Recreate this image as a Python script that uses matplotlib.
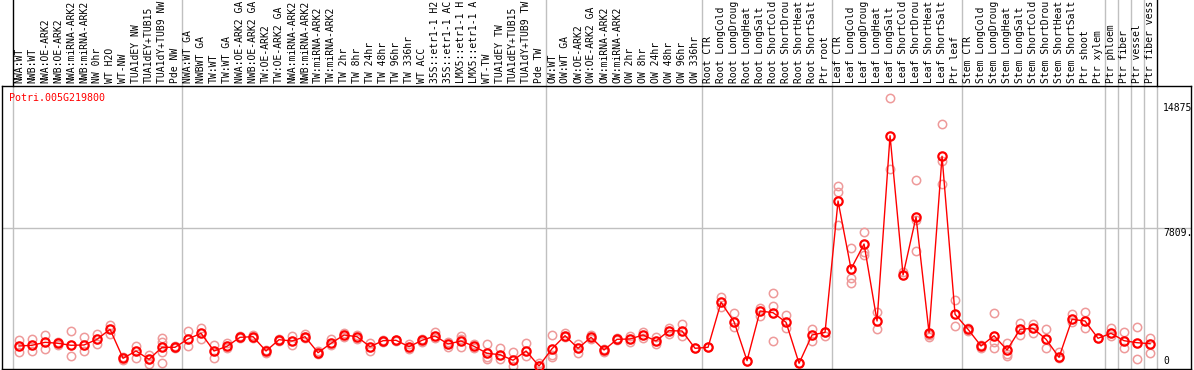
import numpy as np
import matplotlib
matplotlib.use('Agg')
import matplotlib.pyplot as plt
import matplotlib.transforms as mtransforms

gene = 'Potri.005G219800'

labels = ['NWA:WT', 'NWB:WT', 'NWA:OE-ARK2', 'NWB:OE-ARK2', 'NWA:miRNA-ARK2', 'NWB:miRNA-ARK2',
          'NW 0hr', 'WT H2O', 'WT-NW', 'TUA1dEY NW', 'TUA1dEY+TUB15', 'TUA1dY+TUB9 NW', 'Pde NW',
          'NWA:WT GA', 'NWBWT GA', 'TW:WT', 'TW:WT GA', 'NWA:OE-ARK2 GA', 'NWB:OE-ARK2 GA',
          'TW:OE-ARK2', 'TW:OE-ARK2 GA', 'NWA:miRNA-ARK2', 'NWB:miRNA-ARK2', 'TW:miRNA-ARK2',
          'TW:miRNA-ARK2', 'TW 2hr', 'TW 8hr', 'TW 24hr', 'TW 48hr', 'TW 96hr', 'TW 336hr',
          'WT ACC', '35S::etr1-1 H2', '35S::etr1-1 AC', 'LMX5::etr1-1 H', 'LMX5::etr1-1 A',
          'WT-TW', 'TUA1dEY TW', 'TUA1dEY+TUB15', 'TUA1dY+TUB9 TW', 'Pde TW',
          'OW:WT', 'OW:WT GA', 'OW:OE-ARK2', 'OW:OE-ARK2 GA', 'OW:miRNA-ARK2', 'OW:miRNA-ARK2',
          'OW 2hr', 'OW 8hr', 'OW 24hr', 'OW 48hr', 'OW 96hr', 'OW 336hr',
          'Root CTR', 'Root LongCold', 'Root LongDroug', 'Root LongHeat', 'Root LongSalt',
          'Root ShortCold', 'Root ShortDrou', 'Root ShortHeat', 'Root ShortSalt', 'Ptr root',
          'Leaf CTR', 'Leaf LongCold', 'Leaf LongDroug', 'Leaf LongHeat', 'Leaf LongSalt',
          'Leaf ShortCold', 'Leaf ShortDrou', 'Leaf ShortHeat', 'Leaf ShortSalt', 'Ptr leaf',
          'Stem CTR', 'Stem LongCold', 'Stem LongDroug', 'Stem LongHeat', 'Stem LongSalt',
          'Stem ShortCold', 'Stem ShortDrou', 'Stem ShortHeat', 'Stem ShortSalt', 'Ptr shoot',
          'Ptr xylem', 'Ptr phloem', 'Ptr fiber', 'Ptr vessel', 'Ptr fiber vess']

# group separators (between samples)
dividers = [-0.5, 12.5, 40.5, 52.5, 62.5, 72.5, 83.5, 84.5, 85.5, 86.5, 87.5]

means = [1132, 1172, 1341, 1285, 1172, 1189, 1511, 2077, 436, 849, 379, 1058, 1058,
         1528, 1851, 849, 1115, 1624, 1658, 849, 1489, 1415, 1658, 753, 1285, 1755, 1658,
         1092, 1432, 1455, 1092, 1455, 1698, 1245, 1415, 1115, 719, 640, 323, 849, 0,
         979, 1715, 1002, 1624, 906, 1511, 1528, 1755, 1415, 1998, 1981, 1002,
         1058, 3605, 2507, 300, 3113, 3017, 2473, 153, 1755, 1907,
         9339, 5490, 6905, 2547, 13035, 5151, 8433, 1885, 11869, 2926,
         2077, 1132, 1715, 906, 2077, 2134, 1511, 492, 2643, 2547, 1568,
         1851, 1432, 1319, 1262]

reps = [[1455, 809], [1545, 849], [1738, 979], [1358, 1189], [1981, 549], [1624, 866],
        [1794, 1245], [2321, 1811], [509, 360], [1149, 453], [640, 130],
        [1602, 1375, 809, 153], [1132, 1019],
        [1981, 1132], [2168, 1545], [1172, 436], [1285, 1002], [1698, 1568], [1755, 1568],
        [906, 753], [1545, 1415], [1698, 1189], [1794, 1568], [866, 679], [1528, 1189],
        [1885, 1624], [1755, 1528], [1285, 866], [1472, 1375], [1472, 1432], [1228, 962],
        [1511, 1375], [1941, 1568], [1375, 1092], [1698, 1511, 1092], [1228, 1002],
        [1228, 492, 396], [1002, 396], [809, 0], [1319, 566], [187, 0],
        [1755, 623, 492], [1851, 1658], [1245, 753], [1755, 1511], [945, 809], [1568, 1472],
        [1715, 1375], [1941, 1568], [1658, 1245], [2134, 1811], [2377, 1698], [1002],
        [1092], [3922, 3356], [2983, 2224], [300], [3266, 2830], [4115, 3396, 1415],
        [2887, 2168], [187], [2077, 1432], [1941, 1698],
        [10188, 9848, 7981], [6696, 4998, 4698], [7567, 6469, 6283], [3073, 2077],
        [15150, 11133], [5320], [10528, 8264, 6526], [1755, 1658], [13680, 11620, 10284],
        [3736, 2281],
        [2168, 1981], [1189, 1002], [3017, 1341, 1002], [1285, 679, 583], [2451, 1755],
        [2377, 1885], [2077, 1036], [809, 436], [2926, 2507], [3073, 2134], [1602],
        [2134, 1715], [1907, 1036], [2224, 396], [1568, 719]]

yticks = [0, 7809, 14875]
ytick_labels = ['0', '7809.', '14875']

W, H = 1194, 370
fig = plt.figure(figsize=(W / 100, H / 100), dpi=100)
ax = fig.add_axes([2 / W, 1 / H, (1191 - 2) / W, (369 - 86) / H])

x = np.arange(len(means))
mono = 'DejaVu Sans Mono'

# replicate samples
for i, r in enumerate(reps):
    ax.plot([i] * len(r), r, 'o', ms=6, mfc='none', mec='#ee9a9a', mew=1.1, clip_on=False, zorder=2)

ax.plot(x, means, '-', color='red', lw=1, zorder=3)
ax.plot(x, means, 'o', ms=6, mfc='none', mec='red', mew=1.6, zorder=4)

ax.set_xlim(-1.31, 90.15)
ax.set_ylim(-170, 15848)
ax.set_xticks([])
ax.set_yticks([])
for s in ax.spines.values():
    s.set_color('black')
    s.set_linewidth(1)

ax.axhline(7809, color='#c0c0c0', lw=1, zorder=1)
top = 1 + 86 / 283
for k, d in enumerate(dividers):
    ax.axvline(d, 0, 1, color='#c0c0c0', lw=1, zorder=1)
    c = 'black' if k in (0, len(dividers) - 1) else '#c0c0c0'
    ax.axvline(d, 1, top, color=c, lw=1, clip_on=False)

trans = mtransforms.blended_transform_factory(ax.transData, ax.transAxes)
for i, lab in enumerate(labels):
    ax.text(i, 1.01, lab, rotation=90, ha='center', va='bottom', transform=trans,
            family=mono, fontsize=7, clip_on=False)

ax.text(0.006, 0.975, gene, transform=ax.transAxes, color='red', family=mono,
        fontsize=7.2, ha='left', va='top')

for v, t in zip(yticks, ytick_labels):
    ax.text(88.0, v, t, family=mono, fontsize=7, ha='left',
            va='bottom' if v == 0 else 'top')

fig.savefig('out.png', dpi=100)
